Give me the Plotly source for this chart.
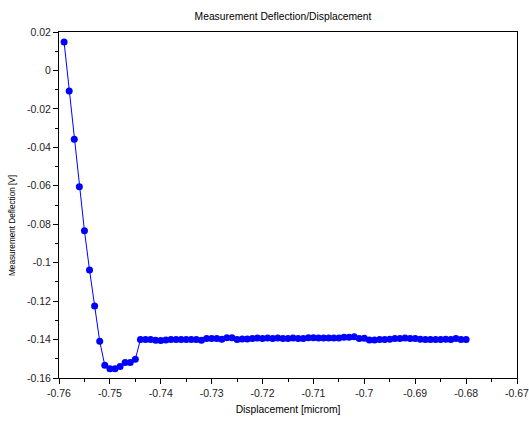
import plotly.graph_objects as go

# Displacement [microm], sampled every 0.001 from -0.759 to -0.680
displacement = [round(-0.759 + 0.001 * i, 3) for i in range(80)]

# Measured deflection [V]
deflection = [
    0.0148, -0.0107, -0.0358, -0.0605, -0.0834, -0.1038, -0.1226, -0.1409,
    -0.1534, -0.1552, -0.1552, -0.1540, -0.1519, -0.1519, -0.1503,
    -0.1400, -0.1400, -0.1400, -0.1403, -0.1405, -0.1402, -0.1400, -0.1400,
    -0.1400, -0.1400, -0.1400, -0.1400, -0.1403, -0.1395, -0.1395, -0.1395,
    -0.1398, -0.1390, -0.1390, -0.1400, -0.1397, -0.1397, -0.1395, -0.1392,
    -0.1395, -0.1392, -0.1395, -0.1392, -0.1395, -0.1395, -0.1392, -0.1395,
    -0.1395, -0.1390, -0.1390, -0.1392, -0.1392, -0.1392, -0.1392, -0.1392,
    -0.1388, -0.1388, -0.1385, -0.1395, -0.1393, -0.1402, -0.1402, -0.1400,
    -0.1400, -0.1398, -0.1395, -0.1395, -0.1392, -0.1395, -0.1395, -0.1398,
    -0.1400, -0.1400, -0.1400, -0.1400, -0.1398, -0.1400, -0.1395, -0.1400,
    -0.1400,
]

x_tick_vals = [-0.76, -0.75, -0.74, -0.73, -0.72, -0.71, -0.70, -0.69, -0.68, -0.67]
x_tick_text = ["-0.76", "-0.75", "-0.74", "-0.73", "-0.72", "-0.71", "-0.7", "-0.69", "-0.68", "-0.67"]
y_tick_vals = [0.02, 0.0, -0.02, -0.04, -0.06, -0.08, -0.10, -0.12, -0.14, -0.16]
y_tick_text = ["0.02", "0", "-0.02", "-0.04", "-0.06", "-0.08", "-0.1", "-0.12", "-0.14", "-0.16"]

font_family = "Liberation Sans, Arial, sans-serif"

fig = go.Figure(
    go.Scatter(
        x=displacement,
        y=deflection,
        mode="lines+markers",
        line=dict(color="#0000ff", width=1),
        marker=dict(color="#0000ff", size=7),
        showlegend=False,
    )
)

axis_common = dict(
    showgrid=False,
    zeroline=False,
    showline=True,
    linecolor="#000000",
    linewidth=1,
    mirror=True,
    ticks="outside",
    ticklen=5,
    tickwidth=1,
    tickcolor="#000000",
    automargin=False,
    ticklabeloverflow="allow",
    tickfont=dict(family=font_family, size=10.5, color="#222222"),
)

fig.update_xaxes(
    range=[-0.76, -0.67],
    tickvals=x_tick_vals,
    ticktext=x_tick_text,
    minor=dict(ticks="outside", ticklen=3, tickcolor="#000000", dtick=0.005, tick0=-0.76),
    title=dict(text="Displacement [microm]", font=dict(family=font_family, size=10.3, color="#000000"), standoff=8),
    **axis_common,
)
fig.update_yaxes(
    range=[-0.16, 0.02],
    tickvals=y_tick_vals,
    ticktext=y_tick_text,
    minor=dict(ticks="outside", ticklen=3, tickcolor="#000000", dtick=0.01, tick0=0.0),
    **axis_common,
)

fig.update_layout(
    width=529,
    height=421,
    margin=dict(l=59, r=12, t=32, b=43),
    paper_bgcolor="#ffffff",
    plot_bgcolor="#ffffff",
    title=dict(
        text="Measurement Deflection/Displacement",
        font=dict(family=font_family, size=10.3, color="#000000"),
        x=0.535,
        xanchor="center",
        y=0.962,
        yanchor="middle",
    ),
    annotations=[
        dict(
            text="Measurement Deflection [V]",
            textangle=-90,
            xref="paper",
            yref="paper",
            x=-0.1,
            y=0.44,
            xanchor="center",
            yanchor="middle",
            showarrow=False,
            font=dict(family=font_family, size=8.2, color="#000000"),
        )
    ],
)

fig.write_html("out.html")
